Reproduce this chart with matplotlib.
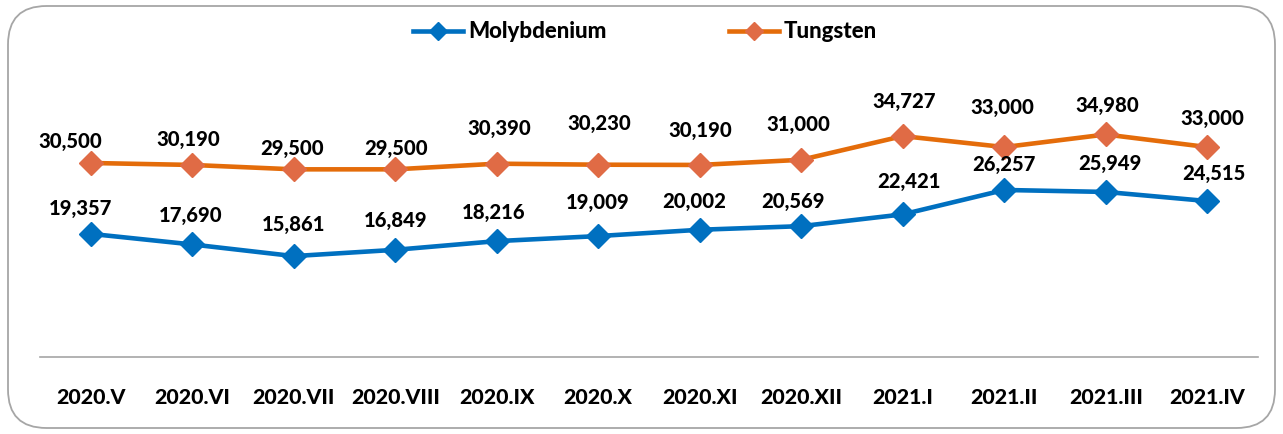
import matplotlib
matplotlib.use("Agg")
import matplotlib.pyplot as plt
from matplotlib.patches import FancyBboxPatch
from matplotlib.lines import Line2D

categories = ["2020.V", "2020.VI", "2020.VII", "2020.VIII", "2020.IX", "2020.X",
              "2020.XI", "2020.XII", "2021.I", "2021.II", "2021.III", "2021.IV"]
molybdenium = [19357, 17690, 15861, 16849, 18216, 19009, 20002, 20569, 22421, 26257, 25949, 24515]
tungsten = [30500, 30190, 29500, 29500, 30390, 30230, 30190, 31000, 34727, 33000, 34980, 33000]

# data-label placement (pixel offsets of label centre from the marker)
moly_lbl_dx = [-10, -2, 0, 0, -3, -1, -6, -8, 6, 0, 4, 7]
moly_lbl_dy = [25, 29, 32, 29, 29, 34, 28, 25, 33, 25, 28, 28]
tung_lbl_dx = [-20, -4, -2, 1, 3, 1, 1, -3, 1, -2, 2, 5]
tung_lbl_dy = [21, 25, 21, 21, 35, 41, 34, 35, 35, 40, 29, 29]

FONT = ["Lato", "DejaVu Sans"]
WEIGHT = "black"
W, H = 1283, 434
fig = plt.figure(figsize=(W / 100, H / 100), dpi=100)

# rounded frame
frame = FancyBboxPatch((8 / W, 6 / H), (1267 / W), (422 / H),
                       boxstyle="round,pad=0,rounding_size=0.03",
                       transform=fig.transFigure, fill=False,
                       edgecolor="#A6A6A6", linewidth=1.3, mutation_aspect=W / H)
fig.patches.append(frame)

ax = fig.add_axes([40 / W, 1 - 357 / H, 1218 / W, 257 / H])
x = list(range(len(categories)))

blue = "#0070C0"
orange_line = "#E46C0A"
orange_mk = "#E06B45"

ax.plot(x, molybdenium, color=blue, lw=3.3, marker="D", ms=12.5,
        markerfacecolor=blue, markeredgecolor=blue, zorder=3)
ax.plot(x, tungsten, color=orange_line, lw=3.3, marker="D", ms=12.5,
        markerfacecolor=orange_mk, markeredgecolor=orange_mk, zorder=3)

for xi, v, dx, dy in zip(x, molybdenium, moly_lbl_dx, moly_lbl_dy):
    ax.annotate(f"{v:,}", (xi, v), xytext=(dx, dy), textcoords="offset pixels",
                ha="center", va="center", fontsize=14.6, fontweight=WEIGHT,
                family=FONT, color="black")
for xi, v, dx, dy in zip(x, tungsten, tung_lbl_dx, tung_lbl_dy):
    ax.annotate(f"{v:,}", (xi, v), xytext=(dx, dy), textcoords="offset pixels",
                ha="center", va="center", fontsize=14.6, fontweight=WEIGHT,
                family=FONT, color="black")

ax.set_xlim(-0.5, len(categories) - 0.5)
ax.set_ylim(0, 40400)
ax.set_xticks(x)
ax.set_xticklabels(categories, fontsize=15.3, fontweight=WEIGHT, family=FONT)
ax.tick_params(axis="x", length=0, pad=22)
ax.set_yticks([])
for s in ["top", "right", "left"]:
    ax.spines[s].set_visible(False)
ax.spines["bottom"].set_color("#A6A6A6")
ax.spines["bottom"].set_linewidth(1.2)
ax.patch.set_alpha(0)

handles = [Line2D([], [], color=blue, lw=3.3, marker="D", ms=9,
                  markerfacecolor=blue, markeredgecolor=blue),
           Line2D([], [], color=orange_line, lw=3.3, marker="D", ms=9,
                  markerfacecolor=orange_mk, markeredgecolor=orange_mk)]
fig.legend(handles, ["Molybdenium", "Tungsten"], loc="center",
           bbox_to_anchor=(645 / W, 1 - 32 / H), ncol=2, frameon=False,
           prop={"family": FONT, "weight": WEIGHT, "size": 16},
           handlelength=2.25, columnspacing=5.5, handletextpad=0.23)

fig.savefig("out.png", dpi=100)
